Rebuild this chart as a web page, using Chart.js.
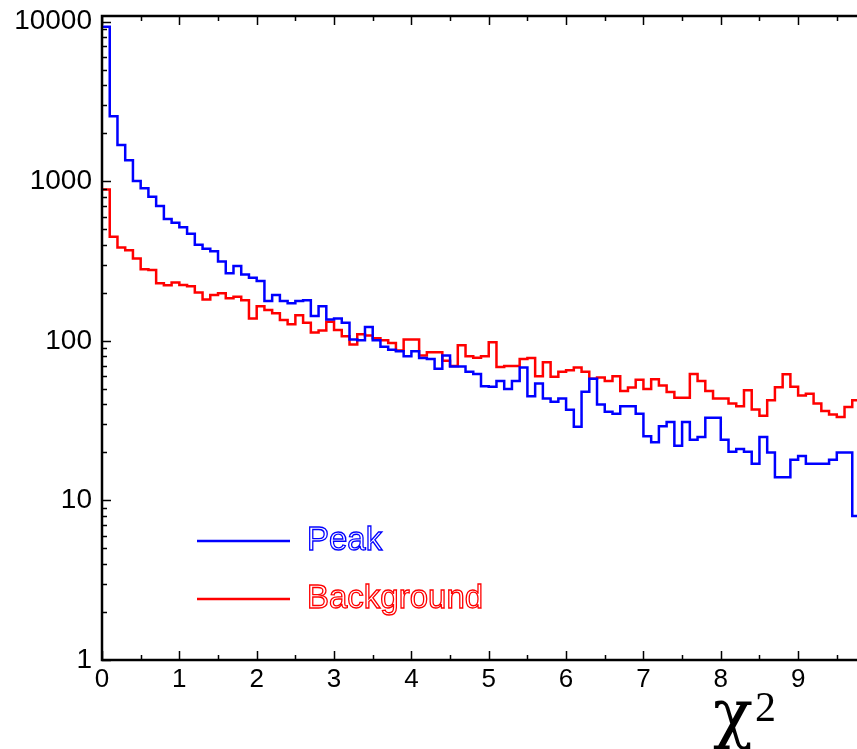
<!DOCTYPE html>
<html>
<head>
<meta charset="utf-8">
<title>chi2 distribution</title>
<script src="https://cdn.jsdelivr.net/npm/chart.js@4.4.1/dist/chart.umd.min.js"></script>
<style>
  html, body { margin: 0; padding: 0; background: #fff; overflow: hidden; }
  #wrap { width: 860px; height: 749px; }
</style>
</head>
<body>
<div id="wrap"><canvas id="chi2" width="860" height="749"></canvas></div>
<script>
// histogram binning: 0.1 wide bins starting at 0
const BIN_WIDTH = 0.1;
const X_MAX = 9.8;

// counts per bin, peak region
const peakCounts = [
  9300, 2560, 1690, 1355, 1005, 905, 800, 700, 580, 550,
  515, 470, 400, 378, 364, 314, 265, 295, 261, 249,
  237, 178, 194, 178, 172, 178, 180, 143, 165, 136,
  138, 130, 102, 101, 122, 101, 92, 88, 86, 80,
  86, 78, 77, 67, 81, 69, 69, 64, 62, 52,
  51.5, 56, 50, 56, 68, 45, 54, 43.5, 41.5, 43.5,
  37, 29, 48, 58, 40, 36, 35, 39, 39, 35,
  25.3, 23.2, 29.2, 31, 22, 31, 24, 25, 33, 33,
  24, 20.2, 21, 20.2, 17, 25, 20, 14, 14, 18,
  19, 17, 17, 17, 18, 20, 20, 8
];

// counts per bin, background region
const backgroundCounts = [
  890, 450, 385, 370, 328, 281, 278, 230, 223, 232,
  224, 220, 201, 182, 194, 199, 185, 189, 180, 138,
  165, 156, 149, 135, 127, 145, 130, 113, 116, 132,
  117, 107, 95, 110, 108, 104, 101, 97, 87, 102,
  102, 81, 85, 85, 75, 69.5, 94, 80, 78.5, 80,
  98, 68.5, 69.5, 69.5, 77, 78, 60, 73.5, 59.5, 64,
  65.5, 68, 64, 58, 59, 56, 60, 48.5, 51, 57,
  50, 57.5, 52.6, 47.8, 44, 44, 62, 56, 48.5, 43.6,
  43.6, 40.5, 39, 49, 37.2, 34, 42.5, 51.3, 61.7, 51.6,
  45.5, 46.7, 40.5, 36.3, 34.6, 33.3, 38.5, 42.4
];

const seriesLabels = ['Peak', 'Background'];
const seriesColors = ['#0000ff', '#ff0000'];
const xTickValues = [0, 1, 2, 3, 4, 5, 6, 7, 8, 9];
const yTickValues = [1, 10, 100, 1000, 10000];

// turn bin counts into step points (left edge of each bin + closing edge)
function toSteps(counts) {
  const pts = counts.map((c, i) => ({ x: Math.round(i * BIN_WIDTH * 10) / 10, y: c }));
  pts.push({ x: Math.round(counts.length * BIN_WIDTH * 10) / 10, y: counts[counts.length - 1] });
  return pts;
}

// box frame with inward ticks (left, bottom, top)
const framePlugin = {
  id: 'frame',
  afterDatasetsDraw(chart) {
    const { ctx, chartArea: a, scales: { x, y } } = chart;
    ctx.save();
    ctx.strokeStyle = '#000';
    ctx.lineWidth = 1.5;
    ctx.beginPath();
    for (let i = 0; i * 0.5 <= X_MAX; i++) {
      const px = Math.round(x.getPixelForValue(i * 0.5)) + 0.5;
      const len = i % 2 === 0 ? 9 : 5;
      ctx.moveTo(px, a.bottom); ctx.lineTo(px, a.bottom - len);
      ctx.moveTo(px, a.top); ctx.lineTo(px, a.top + len);
    }
    for (let d = 1; d <= 10000; d *= 10) {
      for (let m = 1; m <= 9; m++) {
        const v = d * m;
        if (v > y.max) break;
        const py = Math.round(y.getPixelForValue(v)) + 0.5;
        const len = m === 1 ? 9 : 5;
        ctx.moveTo(a.left, py); ctx.lineTo(a.left + len, py);
      }
    }
    ctx.stroke();
    ctx.lineWidth = 2.5;
    ctx.strokeRect(a.left, a.top, a.right - a.left, a.bottom - a.top);
    ctx.restore();
  }
};

// legend inside the plot: short line + outlined label
const legendPlugin = {
  id: 'insideLegend',
  afterDraw(chart) {
    const { ctx } = chart;
    ctx.save();
    chart.data.datasets.forEach((ds, i) => {
      const ly = 541 + i * 58;
      ctx.strokeStyle = ds.borderColor;
      ctx.lineWidth = 2.5;
      ctx.beginPath();
      ctx.moveTo(197, ly);
      ctx.lineTo(290, ly);
      ctx.stroke();
      ctx.font = '33px "Liberation Sans", Arial, sans-serif';
      ctx.textBaseline = 'alphabetic';
      ctx.textAlign = 'left';
      ctx.lineWidth = 1.3;
      ctx.strokeText(ds.label, 307, ly + 9);
    });
    ctx.restore();
  }
};

// x axis title: chi with a superscript 2
const axisTitlePlugin = {
  id: 'chiTitle',
  afterDraw(chart) {
    const { ctx } = chart;
    ctx.save();
    ctx.fillStyle = '#000';
    ctx.textBaseline = 'alphabetic';
    ctx.textAlign = 'left';
    ctx.font = '66px "DejaVu Serif", "Liberation Serif", serif';
    ctx.fillText('χ', 713, 735);
    const w = ctx.measureText('χ').width;
    ctx.font = '42px "Liberation Serif", "DejaVu Serif", serif';
    ctx.fillText('2', 713 + w + 2, 721);
    ctx.restore();
  }
};

// drop the label overflow padding so the plot box keeps its place
function noOverflow(s) {
  s.paddingTop = 0;
  s.paddingBottom = 0;
  s.paddingLeft = 0;
  s.paddingRight = 0;
}

const ctx = document.getElementById('chi2').getContext('2d');
new Chart(ctx, {
  type: 'line',
  data: {
    datasets: [
      { label: seriesLabels[0], data: toSteps(peakCounts), borderColor: seriesColors[0] },
      { label: seriesLabels[1], data: toSteps(backgroundCounts), borderColor: seriesColors[1] }
    ].map(ds => ({
      ...ds,
      stepped: 'before',
      fill: false,
      pointRadius: 0,
      borderWidth: 2.5,
      borderJoinStyle: 'miter',
      tension: 0
    }))
  },
  options: {
    responsive: false,
    animation: false,
    devicePixelRatio: 1,
    layout: { padding: { top: 16, right: 0, left: 0, bottom: 0 } },
    plugins: { legend: { display: false }, tooltip: { enabled: false } },
    scales: {
      x: {
        type: 'linear',
        min: 0,
        max: X_MAX,
        grid: { display: false, drawTicks: false },
        border: { display: false },
        ticks: {
          color: '#000',
          font: { family: '"Liberation Sans Narrow", "Liberation Sans", Arial, sans-serif', size: 26 },
          padding: 4,
          maxRotation: 0,
          autoSkip: false,
          callback: v => String(v)
        },
        afterBuildTicks: s => { s.ticks = xTickValues.map(v => ({ value: v })); },
        afterFit: s => { s.height = 89; noOverflow(s); }
      },
      y: {
        type: 'logarithmic',
        min: 1,
        max: 10870,
        grid: { display: false, drawTicks: false },
        border: { display: false },
        ticks: {
          color: '#000',
          font: { family: '"Liberation Sans", Arial, sans-serif', size: 28 },
          padding: 10,
          callback: v => String(v)
        },
        afterBuildTicks: s => { s.ticks = yTickValues.map(v => ({ value: v })); },
        afterFit: s => { s.width = 102; noOverflow(s); }
      }
    }
  },
  plugins: [framePlugin, legendPlugin, axisTitlePlugin]
});
</script>
</body>
</html>
